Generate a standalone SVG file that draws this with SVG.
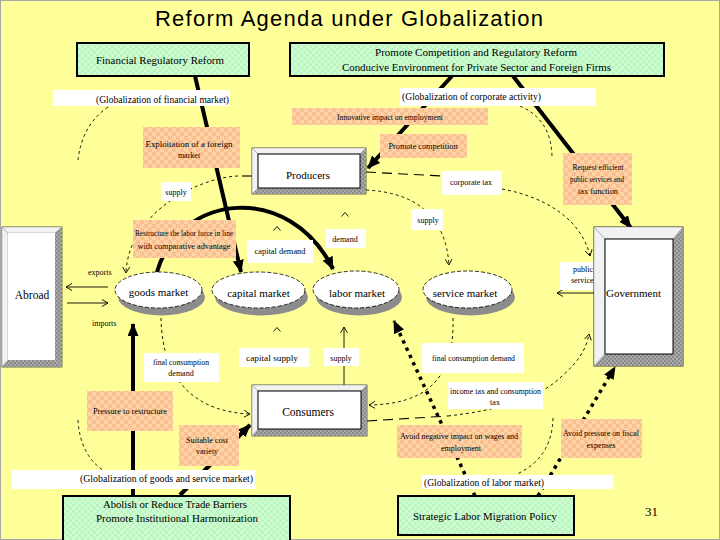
<svg xmlns="http://www.w3.org/2000/svg" width="720" height="540" viewBox="0 0 720 540">
<defs>
<pattern id="green" width="6" height="6" patternUnits="userSpaceOnUse"><rect width="6" height="6" fill="#CCFFCC"/><rect width="3" height="3" fill="#BDF3C6"/><rect x="3" y="3" width="3" height="3" fill="#BDF3C6"/></pattern>
<pattern id="orange" width="8" height="8" patternUnits="userSpaceOnUse"><rect width="8" height="8" fill="#FFD2A4"/><rect width="4" height="4" fill="#F8C093"/><rect x="4" y="4" width="4" height="4" fill="#F8C093"/></pattern>
<pattern id="gray" width="4" height="4" patternUnits="userSpaceOnUse"><rect width="4" height="4" fill="#A8A8A8"/><rect width="2" height="2" fill="#8A8A8A"/><rect x="2" y="2" width="2" height="2" fill="#8A8A8A"/></pattern>
<marker id="thick" markerUnits="userSpaceOnUse" markerWidth="13" markerHeight="11" refX="12" refY="5.5" orient="auto"><path d="M0,0 L13,5.5 L0,11 z" fill="#000"/></marker>
<marker id="chev" markerUnits="userSpaceOnUse" markerWidth="7" markerHeight="8" refX="6" refY="4" orient="auto"><path d="M0,0.5 L6,4 L0,7.5" fill="none" stroke="#000" stroke-width="0.9"/></marker>
</defs>
<style>
.serif{font-family:"Liberation Serif","Times New Roman",serif;fill:#000}
.green{fill:url(#green);stroke:#000;stroke-width:2}
.orange{fill:url(#orange)}
.white{fill:#fff}
.t8{font-size:8px}
.t10{font-size:10px}
.t11{font-size:11px}
.thick{stroke:#000;stroke-width:4;fill:none}
.dots{stroke:#000;stroke-width:3.5;stroke-dasharray:3.5 4.5;fill:none}
.thin{stroke:#000;stroke-width:0.9;fill:none}
.dash{stroke:#000;stroke-width:0.9;stroke-dasharray:3 3;fill:none}
.ldash{stroke:#000;stroke-width:1.1;stroke-dasharray:10 6;fill:none}
.ell{fill:#fff;stroke:#000;stroke-width:0.8;stroke-dasharray:4 2}
.shadow{fill:#8C8C8C}
.inner{fill:#fff;stroke:#000;stroke-width:1}
.hi{fill:#F2F2F2;stroke:#888;stroke-width:0.5}
.dk{fill:url(#gray)}
</style>
<rect x="0" y="0" width="720" height="540" fill="#FFFF99"/>
<rect x="0.5" y="0.5" width="719" height="539" fill="none" stroke="#A8A8A8"/>
<text x="155" y="26" font-family="Liberation Sans, Arial, sans-serif" font-size="22" textLength="388" lengthAdjust="spacing">Reform Agenda under Globalization</text>

<g id="connectors">
<path class="thick" d="M195,76 L241,272" marker-end="url(#thick)"/>
<path class="thick" d="M157,272 C180,192 290,182 333,269" marker-end="url(#thick)"/>
<path class="thick" d="M452,76 L368,168" marker-end="url(#thick)"/>
<path class="thick" d="M513,76 L631,228" marker-end="url(#thick)"/>
<path class="thick" d="M133,496 L133,324" marker-end="url(#thick)"/>
<path class="thick" d="M180,495 L250,425" marker-end="url(#thick)"/>
<path class="dots" d="M538,496 L615,367" marker-end="url(#thick)"/>
<path class="dots" d="M475,496 L394,321" marker-end="url(#thick)"/>
<path class="dash" d="M108,107 Q82,125 78,160"/>
<path class="dash" d="M520,106 Q552,120 552,158"/>
<path class="dash" d="M78,420 Q80,455 104,471"/>
<path class="dash" d="M553,418 Q552,458 517,474"/>
<path class="ldash" d="M252,176 L238,176"/>
<path class="dash" d="M238,176 C195,178 128,215 126,273" marker-end="url(#chev)"/>
<path class="ldash" d="M366,172 L442,176"/>
<path class="dash" d="M502,189 C550,198 582,222 590,256" marker-end="url(#chev)"/>
<path class="dash" d="M366,190 Q444,194 449,265" marker-end="url(#chev)"/>
<path class="ldash" d="M367,421 L448,416"/>
<path class="dash" d="M448,416 C500,410 540,398 562,376 C578,362 586,350 589,334" marker-end="url(#chev)"/>
<path class="dash" d="M161,318 C162,385 200,412 250,414" marker-end="url(#chev)"/>
<path class="dash" d="M453,318 C455,385 420,404 369,405" marker-end="url(#chev)"/>
<path class="thin" d="M594,293 L557,293" marker-end="url(#chev)"/>
<path class="thin" d="M108,287 L66,287" marker-end="url(#chev)"/>
<path class="thin" d="M67,303 L108,303" marker-end="url(#chev)"/>
<path class="thin" d="M344,385 L344,327" marker-end="url(#chev)"/>
<path class="thin" d="M341.5,216.5 L345,212.5 L348.5,216.5"/>
<path class="thin" d="M273.5,230.5 L277,226.5 L280.5,230.5"/>
<path class="thin" d="M273.5,331.5 L277,327.5 L280.5,331.5"/>
</g>

<g id="fin-reform"><rect class="green" x="77" y="43" width="172" height="33"/><text class="serif t11" x="96" y="64" textLength="128" lengthAdjust="spacingAndGlyphs">Financial Regulatory Reform</text></g>
<g id="promote-reform"><rect class="green" x="290" y="43" width="374" height="33"/><text class="serif t11" x="375" y="56" textLength="202" lengthAdjust="spacingAndGlyphs">Promote Competition and Regulatory Reform</text><text class="serif t11" x="342" y="70.5" textLength="269" lengthAdjust="spacingAndGlyphs">Conducive Environment for Private Sector and Foreign Firms</text></g>
<g id="abolish"><rect class="green" x="63" y="496" width="227" height="46"/><text class="serif t11" x="103" y="508" textLength="144" lengthAdjust="spacingAndGlyphs">Abolish or Reduce Trade Barriers</text><text class="serif t11" x="96" y="522" textLength="162" lengthAdjust="spacingAndGlyphs">Promote Institutional Harmonization</text></g>
<g id="strategic"><rect class="green" x="398" y="496" width="176" height="39"/><text class="serif t11" x="413" y="520" textLength="144" lengthAdjust="spacingAndGlyphs">Strategic Labor Migration Policy</text></g>

<g id="glob-fin"><rect class="white" x="53" y="90" width="177" height="16"/><text class="serif t10" x="96" y="102.5" textLength="133" lengthAdjust="spacingAndGlyphs">(Globalization of financial market)</text></g>
<g id="glob-corp"><rect class="white" x="400" y="88" width="196" height="18"/><text class="serif t10" x="402" y="100" textLength="139" lengthAdjust="spacingAndGlyphs">(Globalization of corporate activity)</text></g>
<g id="glob-goods"><rect class="white" x="12" y="470" width="243" height="19"/><text class="serif t10" x="80" y="481.5" textLength="173" lengthAdjust="spacingAndGlyphs">(Globalization of goods and service market)</text></g>
<g id="glob-labor"><rect class="white" x="422" y="475" width="191" height="14"/><text class="serif t10" x="424" y="486" textLength="120" lengthAdjust="spacingAndGlyphs">(Globalization of labor market)</text></g>

<g id="innovative"><rect class="orange" x="292" y="108" width="196" height="17"/><text class="serif t8" x="390" y="120" text-anchor="middle" textLength="106" lengthAdjust="spacingAndGlyphs">Innovative impact on employment</text></g>
<g id="promote-comp"><rect class="orange" x="380" y="134" width="87" height="24"/><text class="serif t8" x="423" y="149" text-anchor="middle" textLength="69" lengthAdjust="spacingAndGlyphs">Promote competition</text></g>
<g id="exploit"><rect class="orange" x="143" y="127" width="97" height="41"/><text class="serif t8" x="189" y="147" text-anchor="middle" textLength="87" lengthAdjust="spacingAndGlyphs">Exploitation of a foreign</text><text class="serif t8" x="189" y="157.5" text-anchor="middle">market</text></g>
<g id="request"><rect class="orange" x="563" y="153" width="69" height="52"/><text class="serif t8" x="598" y="170" text-anchor="middle" textLength="51" lengthAdjust="spacingAndGlyphs">Request efficient</text><text class="serif t8" x="597" y="182" text-anchor="middle" textLength="54" lengthAdjust="spacingAndGlyphs">public services and</text><text class="serif t8" x="598" y="193.5" text-anchor="middle" textLength="40" lengthAdjust="spacingAndGlyphs">tax function</text></g>
<g id="restructure"><rect class="orange" x="133" y="220" width="103" height="38"/><text class="serif t8" x="184" y="236" text-anchor="middle" textLength="98" lengthAdjust="spacingAndGlyphs">Restructure the labor force in line</text><text class="serif t8" x="184" y="249" text-anchor="middle" textLength="93" lengthAdjust="spacingAndGlyphs">with comparative advantage</text></g>
<g id="pressure"><rect class="orange" x="87" y="391" width="86" height="40"/><text class="serif t8" x="130" y="414" text-anchor="middle" textLength="74" lengthAdjust="spacingAndGlyphs">Pressure to restructure</text></g>
<g id="suitable"><rect class="orange" x="179" y="425" width="60" height="41"/><text class="serif t8" x="207" y="443" text-anchor="middle" textLength="42" lengthAdjust="spacingAndGlyphs">Suitable cost</text><text class="serif t8" x="207" y="454" text-anchor="middle">variety</text></g>
<g id="avoid-neg"><rect class="orange" x="397" y="425" width="125" height="33"/><text class="serif t8" x="459" y="439" text-anchor="middle" textLength="118" lengthAdjust="spacingAndGlyphs">Avoid negative impact on wages and</text><text class="serif t8" x="461" y="450.5" text-anchor="middle">employment</text></g>
<g id="avoid-press"><rect class="orange" x="561" y="419" width="81" height="39"/><text class="serif t8" x="601" y="436" text-anchor="middle" textLength="76" lengthAdjust="spacingAndGlyphs">Avoid pressure on fiscal</text><text class="serif t8" x="601" y="448" text-anchor="middle">expenses</text></g>

<g id="lbl-supply-l"><rect class="white" x="161" y="182" width="30" height="19"/><text class="serif t8" x="176" y="194.5" text-anchor="middle">supply</text></g>
<g id="lbl-corptax"><rect class="white" x="442" y="171" width="60" height="24"/><text class="serif t8" x="471" y="185" text-anchor="middle" textLength="42" lengthAdjust="spacingAndGlyphs">corporate tax</text></g>
<g id="lbl-supply-r"><rect class="white" x="411" y="209" width="32" height="21"/><text class="serif t8" x="428" y="222.5" text-anchor="middle">supply</text></g>
<g id="lbl-demand"><rect class="white" x="326" y="229" width="40" height="19"/><text class="serif t8" x="345" y="241.5" text-anchor="middle">demand</text></g>
<g id="lbl-capdemand"><rect class="white" x="247" y="240" width="66" height="23"/><text class="serif t8" x="280" y="254" text-anchor="middle" textLength="51" lengthAdjust="spacingAndGlyphs">capital demand</text></g>
<g id="lbl-public"><rect class="white" x="560" y="262" width="50" height="28"/><text class="serif t8" x="573" y="272">public</text><text class="serif t8" x="571" y="282.5">services</text></g>
<g id="lbl-exports"><text class="serif t8" x="88" y="275">exports</text></g>
<g id="lbl-imports"><text class="serif t8" x="92" y="326">imports</text></g>
<g id="lbl-final-l"><rect class="white" x="144" y="353" width="75" height="29"/><text class="serif t8" x="181" y="364.5" text-anchor="middle" textLength="56" lengthAdjust="spacingAndGlyphs">final consumption</text><text class="serif t8" x="181" y="375.5" text-anchor="middle">demand</text></g>
<g id="lbl-capsupply"><rect class="white" x="239" y="348" width="70" height="19"/><text class="serif t8" x="272" y="360.5" text-anchor="middle" textLength="52" lengthAdjust="spacingAndGlyphs">capital supply</text></g>
<g id="lbl-supply-b"><rect class="white" x="324" y="348" width="35" height="18"/><text class="serif t8" x="341" y="360.5" text-anchor="middle">supply</text></g>
<g id="lbl-final-r"><rect class="white" x="422" y="343" width="102" height="30"/><text class="serif t8" x="473.5" y="360.5" text-anchor="middle" textLength="83" lengthAdjust="spacingAndGlyphs">final consumption demand</text></g>
<g id="lbl-income"><rect class="white" x="448" y="382" width="95" height="27"/><text class="serif t8" x="495.5" y="394" text-anchor="middle" textLength="91" lengthAdjust="spacingAndGlyphs">income tax and consumption</text><text class="serif t8" x="495" y="404.5" text-anchor="middle">tax</text></g>

<g id="goods-market"><ellipse class="shadow" cx="161.5" cy="297" rx="43.5" ry="18.5"/><ellipse class="ell" cx="158.5" cy="290" rx="43.5" ry="18"/><text class="serif t11" x="158.5" y="296" text-anchor="middle">goods market</text></g>
<g id="capital-market"><ellipse class="shadow" cx="261.5" cy="297" rx="46.5" ry="18.5"/><ellipse class="ell" cx="258.5" cy="290" rx="46.5" ry="18"/><text class="serif t11" x="258.5" y="297" text-anchor="middle">capital market</text></g>
<g id="labor-market"><ellipse class="shadow" cx="359" cy="297" rx="43" ry="18.5"/><ellipse class="ell" cx="356" cy="289.5" rx="43" ry="18.5"/><text class="serif t11" x="357" y="297" text-anchor="middle">labor market</text></g>
<g id="service-market"><ellipse class="shadow" cx="470.5" cy="297" rx="44.5" ry="18.5"/><ellipse class="ell" cx="467.5" cy="289.5" rx="44.5" ry="18.5"/><text class="serif t11" x="465" y="297" text-anchor="middle">service market</text></g>

<g id="producers">
<rect x="252" y="148" width="114" height="46" fill="#EEE" stroke="#000" stroke-width="0.6"/>
<polygon class="hi" points="252,148 366,148 360,154 258,154"/>
<polygon class="hi" points="252,148 258,154 258,188 252,194"/>
<polygon class="dk" points="360,154 366,148 366,194 360,188"/>
<polygon class="dk" points="258,188 360,188 366,194 252,194"/>
<rect class="inner" x="258" y="154" width="102" height="34"/>
<text class="serif t11" x="308" y="179" text-anchor="middle">Producers</text>
</g>
<g id="consumers">
<rect x="252" y="385" width="115" height="51" fill="#EEE" stroke="#000" stroke-width="0.6"/>
<polygon class="hi" points="252,385 367,385 361,391 258,391"/>
<polygon class="hi" points="252,385 258,391 258,429 252,436"/>
<polygon class="dk" points="361,391 367,385 367,436 361,429"/>
<polygon class="dk" points="258,429 361,429 367,436 252,436"/>
<rect class="inner" x="258" y="391" width="103" height="38"/>
<text class="serif" font-size="11.5" x="308" y="416" text-anchor="middle">Consumers</text>
</g>
<g id="abroad">
<rect x="2" y="227" width="60" height="140" fill="#EEE" stroke="#000" stroke-width="0.6"/>
<polygon class="hi" points="2,227 62,227 55,233 8,233"/>
<polygon class="hi" points="2,227 8,233 8,360 2,367"/>
<polygon class="dk" points="55,233 62,227 62,367 55,360"/>
<polygon class="dk" points="8,360 55,360 62,367 2,367"/>
<rect x="8" y="233" width="47" height="127" fill="#fff"/>
<text class="serif" font-size="11.5" x="32" y="299" text-anchor="middle">Abroad</text>
</g>
<g id="government">
<rect x="594" y="227" width="89" height="139" fill="#EEE" stroke="#000" stroke-width="0.8"/>
<polygon class="hi" points="594,227 683,227 673,239 605,239"/>
<polygon class="hi" points="594,227 605,239 605,354 594,366"/>
<polygon class="dk" points="673,239 683,227 683,366 673,354"/>
<polygon class="dk" points="605,354 673,354 683,366 594,366"/>
<rect class="inner" x="605" y="239" width="68" height="115"/>
<text class="serif t11" x="633.5" y="297" text-anchor="middle">Government</text>
</g>
<text class="serif" font-size="13" x="645" y="516">31</text>
</svg>
